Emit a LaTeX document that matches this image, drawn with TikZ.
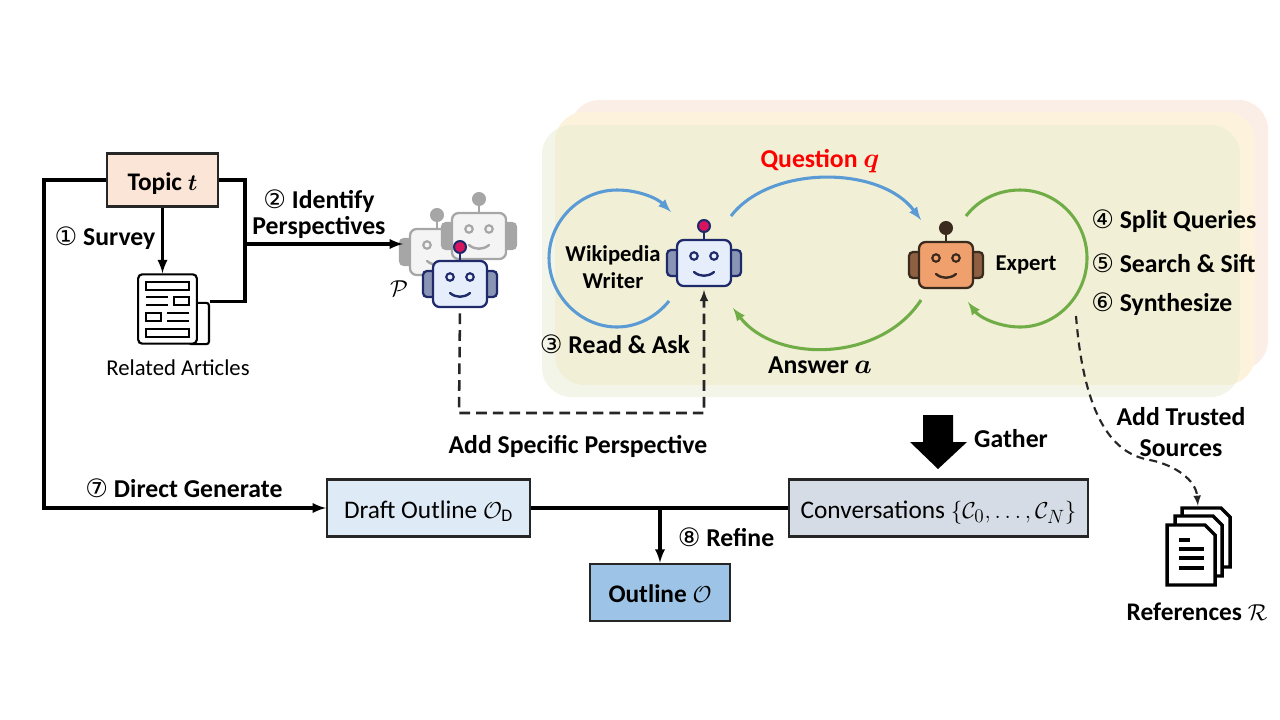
\documentclass[tikz,border=0pt]{standalone}
\usepackage{amsmath}
\usepackage{amssymb}
\usepackage{fontspec}
\setmainfont{Carlito}
\newfontfamily\circfont{DejaVu Sans}
\usetikzlibrary{arrows}

\definecolor{bluearc}{HTML}{5B9BD5}
\definecolor{greenarc}{HTML}{70AD47}
\definecolor{bgpink}{HTML}{FBEEE6}
\definecolor{bgyellow}{HTML}{FDF3DC}
\definecolor{bggreen}{HTML}{E6ECD0}
\definecolor{topicfill}{HTML}{FBE5D6}
\definecolor{draftfill}{HTML}{DEEBF7}
\definecolor{convfill}{HTML}{D6DCE5}
\definecolor{outlinefill}{HTML}{9DC3E6}
\definecolor{grayline}{HTML}{A6A6A6}
\definecolor{grayfill}{HTML}{F4F4F4}
\definecolor{navyline}{HTML}{1F2A6B}
\definecolor{navyfill}{HTML}{E6EEFB}
\definecolor{navyear}{HTML}{8A95B5}
\definecolor{knobred}{HTML}{D6145F}
\definecolor{brownline}{HTML}{3B2A1E}
\definecolor{brownfill}{HTML}{EFA06C}
\definecolor{brownear}{HTML}{8F5F42}

\newcommand{\cnum}[1]{{\circfont\mdseries\fontsize{19}{20}\selectfont #1}}
\newcommand{\robot}[7]{
	\begin{scope}[shift={(#2,#3)}]
		\draw[draw=#5,fill=#6,line width=1.7pt,rounded corners=3pt] (-37,-13) rectangle (-24,13);
		\draw[draw=#5,fill=#6,line width=1.7pt,rounded corners=3pt] (24,-13) rectangle (37,13);
		\draw[draw=#5,line width=1.4pt] (0,-23) -- (0,-33);
		\draw[draw=#5,fill=#7,line width=1.5pt] (0,-37) circle (4.5pt);
		\node[robotbody,draw=#5,fill=#4] (#1) at (0,0) {};
		\draw[draw=#5,line width=1.6pt] (-10,-7) circle (2.8pt);
		\draw[draw=#5,line width=1.6pt] (10,-7) circle (2.8pt);
		\draw[draw=#5,line width=1.8pt,line cap=round] (-10,9) .. controls (-4,14) and (4,14) .. (10,9);
	\end{scope}
}

\begin{document}
\begin{tikzpicture}[x=0.75pt,y=-0.75pt,
	robotbody/.style={rectangle,rounded corners=5pt,line width=1.7pt,minimum width=40.5pt,minimum height=34.5pt,inner sep=0pt},
	stagebox/.style={draw=black!85,line width=1.8pt,inner sep=0pt,text height=16pt,text depth=1pt,font=\fontsize{19}{22}\selectfont},
	boldlab/.style={font=\bfseries\fontsize{19.3}{22}\selectfont,align=center,inner sep=0pt},
	smalllab/.style={font=\bfseries\fontsize{17}{20}\selectfont,align=center,inner sep=0pt},
	link/.style={line width=2.4pt,draw=black},
	dashlink/.style={line width=1.9pt,draw=black!85,dash pattern=on 8pt off 4.5pt},
	arcline/.style={line width=2.3pt}]
	\useasboundingbox (0,0) rectangle (1280,719);

	\fill[fill=bgpink,rounded corners=22pt] (570,100) rectangle (1268,370);
	\fill[fill=bgyellow,rounded corners=22pt] (555,112) rectangle (1255,385);
	\fill[fill=bggreen,opacity=0.5,rounded corners=22pt] (542,125) rectangle (1240,397);

	\node[stagebox,fill=topicfill,minimum width=83pt,minimum height=40pt,font=\bfseries\fontsize{19}{22}\selectfont] (topic) at (162.5,180) {Topic $\boldsymbol{t}$};

	\node[draw=black,line width=1.6pt,fill=white,rounded corners=2pt,minimum width=15pt,minimum height=31pt,inner sep=0pt] (fold) at (199,323.5) {};
	\node[draw=black,line width=1.6pt,fill=white,rounded corners=3pt,minimum width=44pt,minimum height=52pt,inner sep=0pt] (paper) at (167.5,309) {};
	\draw[line width=1.5pt] (146,282) rectangle (189,290);
	\draw[line width=1.5pt] (146,297) -- (168,297);
	\draw[line width=1.5pt] (146,305) -- (168,305);
	\draw[line width=1.5pt] (174,297) rectangle (189,305);
	\draw[line width=1.5pt] (146,313) rectangle (161,321);
	\draw[line width=1.5pt] (167,313) -- (189,313);
	\draw[line width=1.5pt] (167,321) -- (189,321);
	\draw[line width=1.5pt] (146,329) rectangle (189,337);
	\node[inner sep=0pt,font=\fontsize{17}{20}\selectfont] (related) at (178,368) {Related Articles};

	\robot{grayone}{437}{252}{grayfill}{grayline}{grayline}{grayline}
	\robot{graytwo}{479}{236}{grayfill}{grayline}{grayline}{grayline}
	\robot{frontbot}{460}{284}{navyfill}{navyline}{navyear}{knobred}
	\robot{writer}{704}{263}{navyfill}{navyline}{navyear}{knobred}
	\robot{expert}{946}{265}{brownfill}{brownline}{brownear}{brownline}
	\node[inner sep=0pt,font=\fontsize{16}{18}\selectfont] (perspset) at (399,289) {$\mathcal{P}$};

	\coordinate (joint) at (245,244);
	\coordinate (branch) at (660,508);
	\draw[link] (topic.east) -| (joint) |- (fold.north east);
	\draw[link,-latex] (joint) -- (403,244) coordinate (perspin);
	\draw[link,-latex] (topic.south) -- (paper.north -| topic.south);

	\node[stagebox,fill=draftfill,minimum width=152pt,minimum height=43pt] (draft) at (428.5,508) {Draft Outline $\mathcal{O}_{\mathrm{D}}$};
	\node[stagebox,fill=convfill,minimum width=224pt,minimum height=43pt] (conv) at (938.5,508) {Conversations $\{\mathcal{C}_0,\ldots,\mathcal{C}_N\}$};
	\node[stagebox,fill=outlinefill,minimum width=105pt,minimum height=43pt,font=\bfseries\fontsize{19}{22}\selectfont] (outline) at (660,592.5) {Outline $\mathcal{O}$};

	\draw[link,-latex] (topic.west) -| (44,508) -- (draft.west);
	\draw[link] (draft.east) -- (conv.west);
	\draw[link,-latex] (branch) -- (outline.north);

	\draw[bluearc,arcline,-latex] (669,301) .. controls (657,316) and (638,327) .. (617,327) .. controls (580,327) and (549,295) .. (549,258) .. controls (549,221) and (580,190) .. (617,190) .. controls (638,190) and (657,198) .. (671,212);
	\draw[bluearc,arcline,-latex] (731,216) .. controls (770,165) and (880,165) .. (921,220);
	\draw[greenarc,arcline,-latex] (921,300) .. controls (880,363) and (775,363) .. (733,308);
	\draw[greenarc,arcline,-latex] (966,216) .. controls (980,198) and (1000,190) .. (1020,190) .. controls (1057,190) and (1087,221) .. (1087,258) .. controls (1087,295) and (1057,327) .. (1020,327) .. controls (1000,327) and (980,318) .. (968,302);

	\draw[dashlink,-latex,shorten <=4pt,shorten >=2pt] (frontbot.south) -- (459,413) -| (writer.south);

	\node[inner sep=0pt,minimum width=47pt,minimum height=58pt] (refs) at (1198,546) {};
	\draw[line width=2.6pt,fill=white] (1182,508) -- (1221,508) -- (1230,517) -- (1230,567) -- (1182,567) -- cycle;
	\draw[line width=2.6pt,fill=white] (1175,516) -- (1213,516) -- (1222,525) -- (1222,576) -- (1175,576) -- cycle;
	\draw[line width=2.6pt,fill=white] (1167,525) -- (1205,525) -- (1215,535) -- (1215,585) -- (1167,585) -- cycle;
	\draw[line width=2.8pt] (1179,540) -- (1190,540);
	\draw[line width=2.8pt] (1179,549) -- (1204,549);
	\draw[line width=2.8pt] (1179,558) -- (1204,558);
	\draw[line width=2.8pt] (1179,568) -- (1204,568);
	\draw[dashlink,line width=1.6pt,dash pattern=on 6pt off 4pt,-latex,shorten >=1pt] (1076,316) .. controls (1085,430) and (1120,455) .. (1150,460) .. controls (1175,465) and (1196,480) .. (refs.north);

	\fill (923,415) -- (953,415) -- (953,442) -- (967,442) -- (938,469) -- (910,442) -- (923,442) -- cycle;

	\node[boldlab] (surveylab) at (105,238) {\cnum{①} Survey};
	\node[boldlab] (identlab) at (319,214) {\cnum{②} Identify\\[-2pt]Perspectives};
	\node[smalllab] (writerlab) at (613,267) {Wikipedia\\[0pt]Writer};
	\node[smalllab] (expertlab) at (1026,265) {Expert};
	\node[boldlab,text=red] (questlab) at (820,161) {Question $\boldsymbol{q}$};
	\node[boldlab] (anslab) at (820,365) {Answer $\boldsymbol{a}$};
	\node[boldlab] (readlab) at (615,344) {\cnum{③} Read \& Ask};
	\node[boldlab,anchor=west] (splitlab) at (1091,221) {\cnum{④} Split Queries};
	\node[boldlab,anchor=west] (searchlab) at (1091,263) {\cnum{⑤} Search \& Sift};
	\node[boldlab,anchor=west] (synthlab) at (1091,304) {\cnum{⑥} Synthesize};
	\node[boldlab] (addpersp) at (578,446) {Add Specific Perspective};
	\node[boldlab] (gatherlab) at (1011,439) {Gather};
	\node[boldlab] (trustlab) at (1181,432) {Add Trusted\\[1pt]Sources};
	\node[boldlab] (directlab) at (184,488) {\cnum{⑦} Direct Generate};
	\node[boldlab] (refinelab) at (726,537) {\cnum{⑧} Refine};
	\node[boldlab,font=\bfseries\fontsize{19}{22}\selectfont] (refslab) at (1197,612) {References $\mathcal{R}$};
\end{tikzpicture}
\end{document}
